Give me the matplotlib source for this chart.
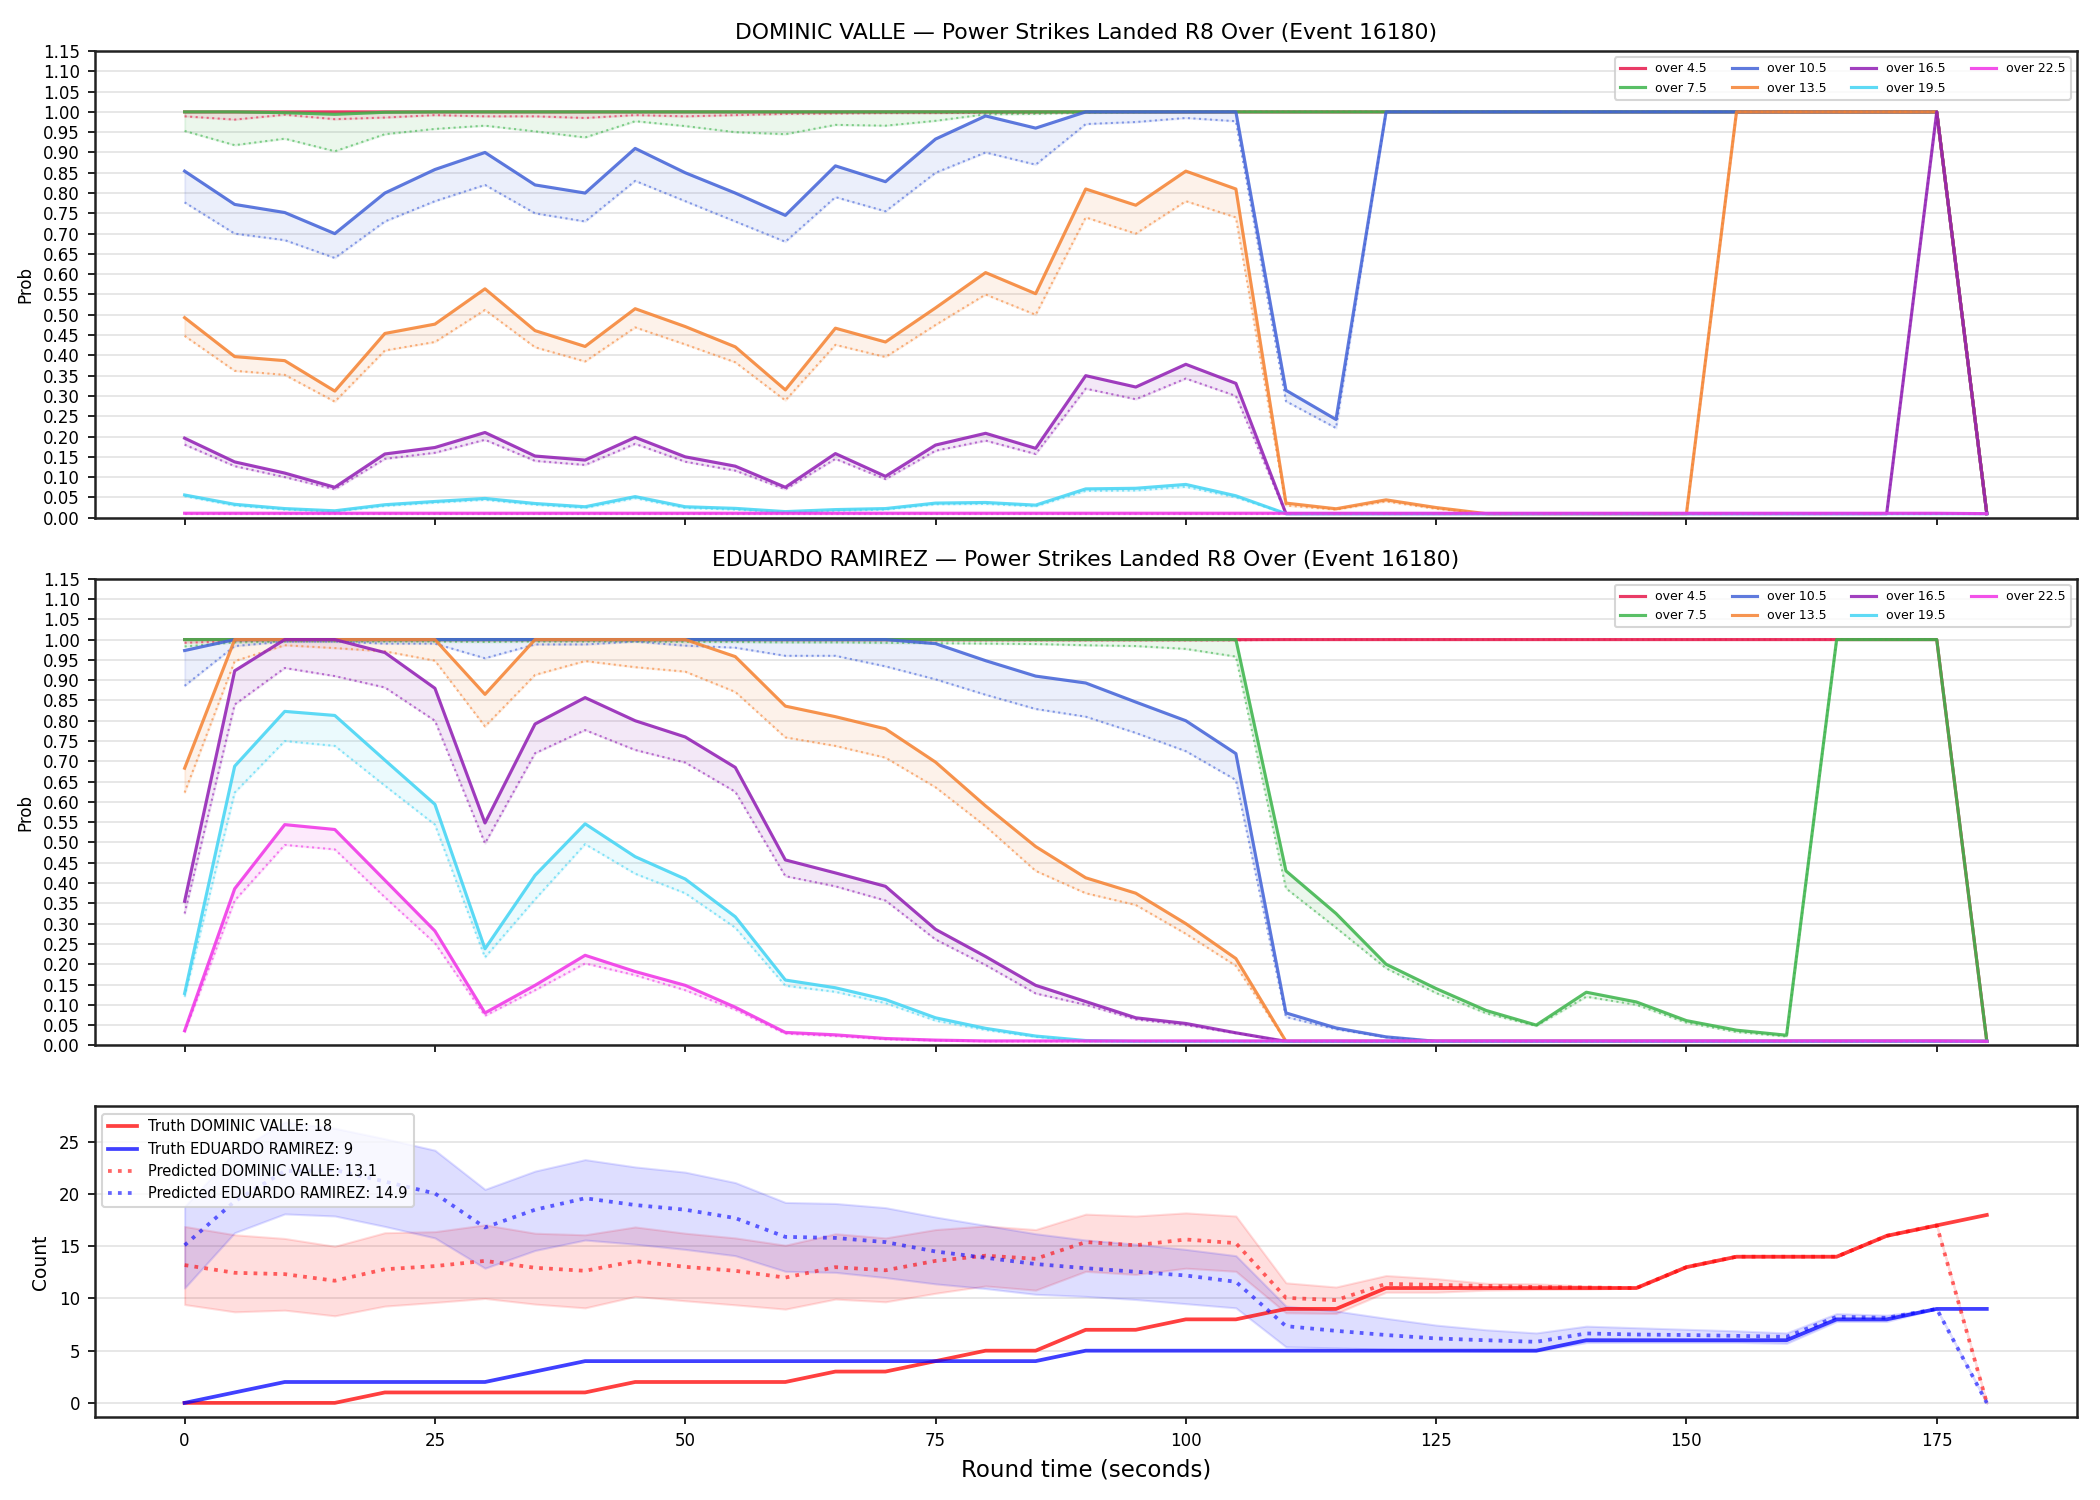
import numpy as np
import matplotlib
matplotlib.use("Agg")
import matplotlib.pyplot as plt

# round time, seconds
t = np.arange(0, 185, 5)

lines = ["over 4.5", "over 7.5", "over 10.5", "over 13.5",
         "over 16.5", "over 19.5", "over 22.5"]
colors = ["#e6194B", "#3cb44b", "#4363d8", "#f58231",
          "#911eb4", "#42d4f4", "#f032e6"]

# ---- DOMINIC VALLE: probability (solid) and lower band (dotted)
valle_p = [
    [1.0] * 36 + [0.01],
    [1.0, 1.0, 0.998, 0.994, 0.999] + [1.0] * 31 + [0.01],
    [0.854, 0.772, 0.752, 0.70, 0.80, 0.858, 0.90, 0.82, 0.80, 0.91, 0.85, 0.80,
     0.745, 0.867, 0.828, 0.933, 0.99, 0.96, 1.0, 1.0, 1.0, 1.0, 0.314, 0.242]
    + [1.0] * 12 + [0.01],
    [0.493, 0.397, 0.387, 0.312, 0.454, 0.477, 0.564, 0.461, 0.422, 0.515, 0.471,
     0.421, 0.315, 0.467, 0.433, 0.517, 0.604, 0.552, 0.81, 0.77, 0.854, 0.81,
     0.036, 0.022, 0.044, 0.025] + [0.01] * 5 + [1.0] * 5 + [0.01],
    [0.196, 0.1375, 0.11, 0.075, 0.157, 0.173, 0.21, 0.152, 0.142, 0.198, 0.15,
     0.127, 0.075, 0.158, 0.102, 0.179, 0.208, 0.171, 0.35, 0.322, 0.378, 0.331]
    + [0.01] * 13 + [1.0, 0.01],
    [0.056, 0.033, 0.0225, 0.017, 0.032, 0.04, 0.0475, 0.035, 0.027, 0.052, 0.027,
     0.023, 0.015, 0.02, 0.0225, 0.036, 0.0375, 0.031, 0.071, 0.0725, 0.082, 0.054]
    + [0.01] * 15,
    [0.011] * 36 + [0.01],
]
valle_lo = [
    [0.989, 0.981, 0.993, 0.982, 0.986, 0.992, 0.989, 0.989, 0.985, 0.992, 0.989,
     0.992, 0.995, 0.996, 0.997, 0.997, 0.998, 0.998] + [1.0] * 18 + [0.01],
    [0.953, 0.918, 0.934, 0.903, 0.945, 0.958, 0.966, 0.952, 0.937, 0.977, 0.965,
     0.95, 0.945, 0.968, 0.966, 0.978, 0.994, 0.995, 0.998, 0.999] + [1.0] * 16 + [0.01],
    [0.777, 0.70, 0.684, 0.64, 0.73, 0.78, 0.82, 0.75, 0.73, 0.83, 0.78, 0.73,
     0.68, 0.79, 0.755, 0.85, 0.90, 0.87, 0.97, 0.975, 0.985, 0.977, 0.287, 0.221]
    + [1.0] * 12 + [0.01],
    [0.448, 0.362, 0.352, 0.286, 0.412, 0.433, 0.512, 0.42, 0.385, 0.469, 0.427,
     0.383, 0.289, 0.426, 0.396, 0.475, 0.55, 0.50, 0.74, 0.70, 0.78, 0.74,
     0.03, 0.02, 0.04, 0.022] + [0.01] * 5 + [1.0] * 5 + [0.01],
    [0.18, 0.127, 0.10, 0.07, 0.145, 0.16, 0.192, 0.14, 0.13, 0.182, 0.138,
     0.116, 0.07, 0.145, 0.095, 0.165, 0.19, 0.157, 0.318, 0.292, 0.343, 0.30]
    + [0.01] * 13 + [1.0, 0.01],
    [0.053, 0.03, 0.02, 0.015, 0.029, 0.037, 0.044, 0.032, 0.024, 0.048, 0.024,
     0.02, 0.013, 0.017, 0.02, 0.033, 0.034, 0.028, 0.066, 0.067, 0.076, 0.05]
    + [0.01] * 15,
    [0.01] * 37,
]

# ---- EDUARDO RAMIREZ
ramirez_p = [
    [1.0] * 36 + [0.01],
    [1.0] * 22 + [0.43, 0.325, 0.20, 0.14, 0.086, 0.05, 0.131, 0.107, 0.061,
                  0.0375, 0.025, 1.0, 1.0, 1.0, 0.01],
    [0.973] + [1.0] * 14 + [0.99, 0.948, 0.91, 0.893, 0.846, 0.80, 0.719,
                            0.08, 0.043, 0.021] + [0.01] * 12,
    [0.683, 1.0, 1.0, 1.0, 1.0, 1.0, 0.865, 1.0, 1.0, 1.0, 1.0, 0.958, 0.836,
     0.81, 0.78, 0.698, 0.59, 0.49, 0.413, 0.375, 0.30, 0.214] + [0.01] * 15,
    [0.355, 0.923, 1.0, 1.0, 0.968, 0.88, 0.548, 0.792, 0.857, 0.80, 0.76, 0.685,
     0.457, 0.425, 0.392, 0.286, 0.219, 0.148, 0.108, 0.068, 0.054, 0.031]
    + [0.01] * 15,
    [0.128, 0.688, 0.823, 0.813, 0.703, 0.594, 0.238, 0.419, 0.546, 0.465, 0.41,
     0.317, 0.161, 0.142, 0.113, 0.068, 0.042, 0.023, 0.012] + [0.01] * 18,
    [0.036, 0.386, 0.544, 0.532, 0.407, 0.282, 0.08, 0.148, 0.222, 0.182, 0.148,
     0.094, 0.032, 0.026, 0.017, 0.013] + [0.011] * 20 + [0.01],
]
ramirez_lo = [
    [0.992, 0.996] + [0.998] * 20 + [1.0] * 14 + [0.01],
    [0.983, 0.993, 0.995, 0.995, 0.995, 0.995, 0.994, 0.995, 0.995, 0.995, 0.994,
     0.994, 0.993, 0.993, 0.992, 0.991, 0.99, 0.989, 0.986, 0.984, 0.977, 0.958,
     0.387, 0.29, 0.19, 0.129, 0.079, 0.048, 0.12, 0.10, 0.056, 0.033, 0.022,
     1.0, 1.0, 1.0, 0.01],
    [0.886, 0.984, 0.995, 0.995, 0.99, 0.99, 0.954, 0.988, 0.988, 0.995, 0.985,
     0.98, 0.96, 0.96, 0.934, 0.902, 0.864, 0.829, 0.81, 0.77, 0.725, 0.654,
     0.07, 0.04, 0.02] + [0.01] * 12,
    [0.623, 0.947, 0.986, 0.979, 0.971, 0.948, 0.786, 0.913, 0.947, 0.932, 0.921,
     0.871, 0.759, 0.738, 0.709, 0.636, 0.54, 0.43, 0.375, 0.346, 0.275, 0.196]
    + [0.01] * 15,
    [0.325, 0.84, 0.93, 0.91, 0.882, 0.80, 0.498, 0.72, 0.777, 0.728, 0.697,
     0.625, 0.417, 0.392, 0.357, 0.261, 0.198, 0.128, 0.10, 0.064, 0.05, 0.03]
    + [0.01] * 15,
    [0.12, 0.623, 0.75, 0.738, 0.64, 0.544, 0.217, 0.36, 0.496, 0.423, 0.375,
     0.29, 0.147, 0.132, 0.104, 0.061, 0.038, 0.021] + [0.01] * 19,
    [0.033, 0.357, 0.494, 0.483, 0.365, 0.252, 0.073, 0.136, 0.202, 0.173, 0.136,
     0.088, 0.029, 0.023, 0.015, 0.012] + [0.01] * 21,
]

# ---- counts
truth_valle = [0, 0, 0, 0, 1, 1, 1, 1, 1, 2, 2, 2, 2, 3, 3, 4, 5, 5, 7, 7, 8, 8,
               9, 9, 11, 11, 11, 11, 11, 11, 13, 14, 14, 14, 16, 17, 18]
truth_ramirez = [0, 1, 2, 2, 2, 2, 2, 3, 4, 4, 4, 4, 4, 4, 4, 4, 4, 4, 5, 5, 5, 5,
                 5, 5, 5, 5, 5, 5, 6, 6, 6, 6, 6, 8, 8, 9, 9]
pred_valle = [13.2, 12.46, 12.33, 11.7, 12.8, 13.1, 13.6, 12.94, 12.65, 13.58,
              13.03, 12.65, 12.0, 13.0, 12.7, 13.6, 14.1, 13.8, 15.4, 15.1, 15.65,
              15.3, 10.06, 9.84, 11.4, 11.3, 11.2, 11.1, 11.05, 11.0, 13.0, 14.0,
              14.0, 14.0, 16.0, 17.0, 0.0]
valle_hi_c = [16.9, 16.1, 15.75, 15.0, 16.3, 16.4, 17.05, 16.25, 16.1, 16.85,
              16.25, 15.8, 15.1, 16.2, 15.8, 16.6, 16.95, 16.6, 18.08, 17.9, 18.2,
              17.9, 11.5, 11.1, 12.2, 11.9, 11.45, 11.4, 11.2, 11.1, 13.0, 14.0,
              14.0, 14.0, 16.0, 17.0, 0.0]
valle_lo_c = [9.42, 8.72, 8.88, 8.34, 9.27, 9.62, 10.0, 9.46, 9.1, 10.2, 9.78,
              9.39, 8.98, 9.94, 9.68, 10.5, 11.2, 10.8, 12.6, 12.3, 12.9, 12.6,
              8.63, 8.56, 10.6, 10.6, 10.8, 10.86, 10.9, 11.0, 13.0, 14.0, 14.0,
              14.0, 16.0, 17.0, 0.0]
pred_ramirez = [15.1, 19.3, 22.2, 22.3, 21.2, 20.06, 16.8, 18.5, 19.6, 18.95,
                18.5, 17.7, 15.9, 15.8, 15.4, 14.5, 13.9, 13.3, 12.9, 12.56, 12.2,
                11.6, 7.35, 6.9, 6.5, 6.17, 6.0, 5.85, 6.65, 6.55, 6.5, 6.42, 6.33,
                8.24, 8.15, 9.0, 0.0]
ramirez_hi_c = [18.8, 24.0, 26.9, 26.3, 25.3, 24.2, 20.45, 22.2, 23.3, 22.6, 22.1,
                21.1, 19.2, 19.1, 18.7, 17.8, 17.0, 16.2, 15.6, 15.2, 14.7, 14.1,
                9.27, 8.8, 8.1, 7.45, 7.0, 6.7, 7.35, 7.2, 7.05, 6.9, 6.7, 8.55,
                8.4, 9.0, 0.0]
ramirez_lo_c = [11.0, 16.3, 18.1, 17.9, 16.9, 15.8, 12.9, 14.6, 15.6, 15.2, 14.7,
                14.1, 12.6, 12.5, 12.0, 11.4, 10.95, 10.4, 10.2, 9.9, 9.5, 9.1,
                5.37, 5.27, 5.14, 5.05, 4.98, 4.95, 5.78, 5.8, 5.8, 5.8, 5.7, 7.8,
                7.8, 9.0, 0.0]


def prob_panel(ax, name, p_list, lo_list):
    for lab, c, p, lo in zip(lines, colors, p_list, lo_list):
        ax.plot(t, p, color=c, lw=1.5, alpha=0.85, label=lab)
        ax.plot(t, lo, color=c, lw=1.0, ls=":", alpha=0.6)
        ax.fill_between(t, lo, p, color=c, alpha=0.1)
    ax.set_ylim(0, 1.15)
    ax.set_yticks(np.arange(0, 1.151, 0.05))
    ax.set_ylabel("Prob", fontsize=8)
    ax.set_title(name + " \u2014 Power Strikes Landed R8 Over (Event 16180)",
                 fontsize=10.5)
    ax.legend(loc="upper right", ncol=4, fontsize=6)


fig, axes = plt.subplots(3, 1, figsize=(14, 10), dpi=150, sharex=True,
                         gridspec_kw={"height_ratios": [3, 3, 2]})
fig.subplots_adjust(left=0.045, right=0.989, top=0.966, bottom=0.055,
                    hspace=0.147)

prob_panel(axes[0], "DOMINIC VALLE", valle_p, valle_lo)
prob_panel(axes[1], "EDUARDO RAMIREZ", ramirez_p, ramirez_lo)

ax = axes[2]
ax.plot(t, truth_valle, color="red", lw=1.8, alpha=0.75,
        label="Truth DOMINIC VALLE: 18")
ax.plot(t, truth_ramirez, color="blue", lw=1.8, alpha=0.75,
        label="Truth EDUARDO RAMIREZ: 9")
ax.plot(t, pred_valle, color="red", lw=1.8, ls=":", alpha=0.6,
        label="Predicted DOMINIC VALLE: 13.1")
ax.fill_between(t, valle_lo_c, valle_hi_c, color="red", alpha=0.13)
ax.plot(t, pred_ramirez, color="blue", lw=1.8, ls=":", alpha=0.6,
        label="Predicted EDUARDO RAMIREZ: 14.9")
ax.fill_between(t, ramirez_lo_c, ramirez_hi_c, color="blue", alpha=0.13)
ax.set_ylim(-1.4, 28.4)
ax.set_yticks([0, 5, 10, 15, 20, 25])
ax.set_ylabel("Count", fontsize=9)
ax.set_xlabel("Round time (seconds)", fontsize=11)
ax.legend(loc="upper left", fontsize=7)
ax.set_xticks([0, 25, 50, 75, 100, 125, 150, 175])

for a in axes:
    a.grid(axis="y", color="#e3e3e3", lw=0.8)
    a.set_axisbelow(True)
    a.tick_params(labelsize=8)
    for s in a.spines.values():
        s.set_linewidth(1.2)
        s.set_color("#222222")

fig.savefig("out.png", dpi=150)
